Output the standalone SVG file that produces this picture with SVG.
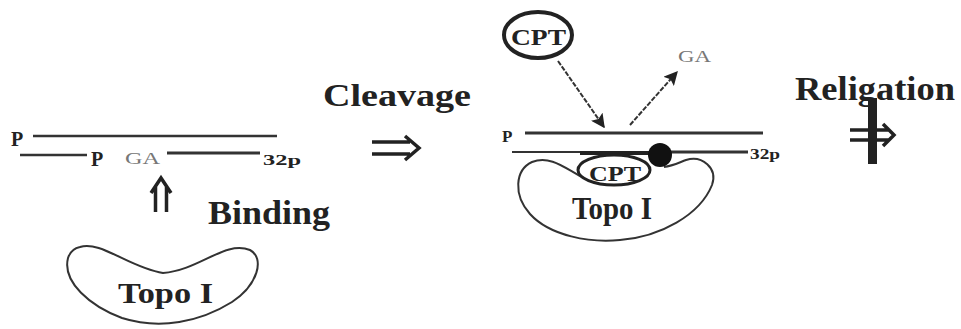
<svg xmlns="http://www.w3.org/2000/svg" width="961" height="329" viewBox="0 0 961 329">
<style>
.lbl{font-family:"Liberation Serif","Times New Roman",serif;font-weight:bold;fill:#222}
.sm{font-family:"Liberation Serif","Times New Roman",serif;fill:#777}
.strand{stroke:#333;fill:none;stroke-linecap:butt}
.shape{fill:none;stroke:#333;stroke-width:2}
.dbl{fill:none;stroke:#222;stroke-width:3.5;stroke-linecap:butt;stroke-linejoin:miter}
.conn{stroke:#333;stroke-width:2;fill:none;stroke-dasharray:5 1.5}
</style>
<defs>
<marker id="ah" viewBox="0 0 10 10" refX="9" refY="5" markerWidth="7" markerHeight="7" orient="auto" markerUnits="userSpaceOnUse">
<path d="M0,0 L10,5 L0,10 Z" fill="#222"/>
</marker>
<marker id="ah2" viewBox="0 0 10 10" refX="9" refY="5" markerWidth="14" markerHeight="14" orient="auto" markerUnits="userSpaceOnUse">
<path d="M0,0 L10,5 L0,10 L2,5 Z" fill="#222"/>
</marker>
</defs>
<rect width="961" height="329" fill="#fff"/>

<g id="dna-left">
<line class="strand" x1="33" y1="136" x2="277" y2="136" stroke-width="2.5"/>
<line class="strand" x1="20" y1="155" x2="87" y2="155" stroke-width="2.5"/>
<line class="strand" x1="167" y1="153" x2="260" y2="153" stroke-width="3"/>
<text class="lbl" x="11" y="146" font-size="20">P</text>
<text class="lbl" x="91" y="166" font-size="20">P</text>
<text class="sm" x="125" y="164" font-size="16" textLength="35" lengthAdjust="spacingAndGlyphs">GA</text>
<text class="lbl" x="263" y="165" font-size="15" textLength="38" lengthAdjust="spacingAndGlyphs">32p</text>
</g>

<g id="topo-left">
<path class="shape" d="M80,247 C100,240 130,268 163,273 C200,270 225,240 250,250 C265,258 258,285 232,302 C200,322 160,330 122,318 C90,306 62,282 68,258 C70,252 75,248 80,247 Z"/>
<text class="lbl" x="118" y="303" font-size="29" textLength="95" lengthAdjust="spacingAndGlyphs">Topo I</text>
</g>

<g id="binding-label">
<text class="lbl" x="208" y="224" font-size="34" textLength="122" lengthAdjust="spacingAndGlyphs">Binding</text>
</g>

<g id="cleavage-label">
<text class="lbl" x="323" y="106" font-size="31" textLength="148" lengthAdjust="spacingAndGlyphs">Cleavage</text>
</g>

<g id="cpt-free">
<ellipse cx="538" cy="35" rx="34" ry="23" fill="none" stroke="#222" stroke-width="4"/>
<text class="lbl" x="511" y="45" font-size="24" textLength="55" lengthAdjust="spacingAndGlyphs">CPT</text>
</g>

<g id="ga-free">
<text class="sm" x="678" y="62" font-size="17" textLength="33" lengthAdjust="spacingAndGlyphs">GA</text>
</g>

<g id="dna-mid">
<line class="strand" x1="525" y1="133" x2="763" y2="133" stroke-width="3"/>
<line class="strand" x1="512" y1="152" x2="580" y2="152" stroke-width="2"/>
<line class="strand" x1="668" y1="152" x2="748" y2="152" stroke-width="3"/>
<text class="lbl" x="502" y="142" font-size="17">P</text>
<text class="lbl" x="750" y="159" font-size="14" textLength="30" lengthAdjust="spacingAndGlyphs">32p</text>
</g>

<g id="complex">
<path class="shape" d="M580,176 C565,168 550,155 532,162 C515,170 513,195 530,214 C550,236 590,243 620,240 C660,237 700,215 712,185 C718,168 702,155 686,160 C678,163 672,166 664,167"/>
<path d="M580,153 L650,153" stroke="#222" stroke-width="4" fill="none"/>
<ellipse cx="614" cy="170" rx="36" ry="15" fill="none" stroke="#222" stroke-width="3"/>
<circle cx="660" cy="155" r="12" fill="#111"/>
<text class="lbl" x="589" y="181" font-size="22" textLength="52" lengthAdjust="spacingAndGlyphs">CPT</text>
<text class="lbl" x="572" y="219" font-size="31" textLength="80" lengthAdjust="spacingAndGlyphs">Topo I</text>
</g>

<g id="religation">
<text class="lbl" x="795" y="100" font-size="33" textLength="160" lengthAdjust="spacingAndGlyphs">Religation</text>
</g>

<g id="connectors">
<!-- binding double up arrow -->
<path class="dbl" d="M155.5,212 V186 M166.5,212 V186 M151,193 L161,178 L171,193"/>
<!-- cleavage double right arrow -->
<path class="dbl" d="M372,142 H410 M372,154 H410 M405,136 L419,148 L405,160"/>
<!-- CPT in -->
<line class="conn" x1="558" y1="61" x2="604" y2="127" marker-end="url(#ah2)"/>
<!-- GA out -->
<line class="conn" x1="630" y1="125" x2="677" y2="72" marker-end="url(#ah2)"/>
<!-- blocked religation arrow -->
<path class="dbl" d="M850,130 H889 M850,140 H889 M883,124 L894,135 L883,146"/>
<rect x="868" y="98" width="9" height="66" fill="#222"/>
</g>
</svg>
